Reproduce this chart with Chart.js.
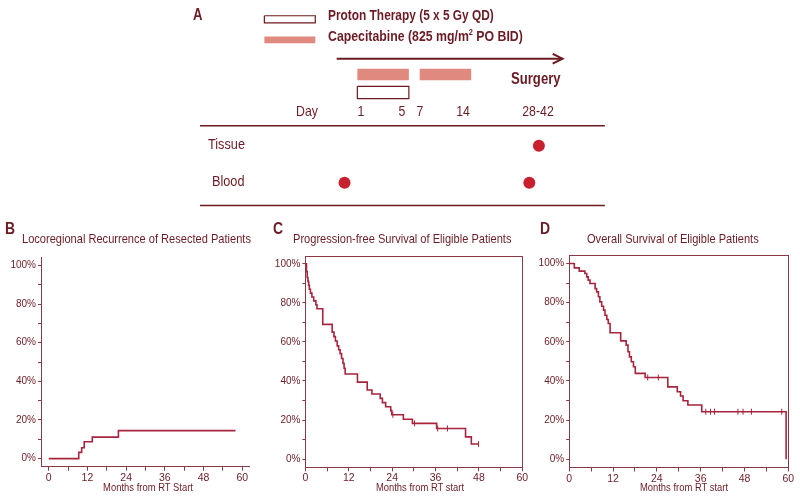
<!DOCTYPE html>
<html>
<head>
<meta charset="utf-8">
<script src="https://cdn.jsdelivr.net/npm/chart.js@4.4.1/dist/chart.umd.min.js"></script>
<style>
body { margin: 0; background: #fff; }
#wrap { position: relative; width: 800px; height: 500px; overflow: hidden; font-family: "Liberation Sans", Arial, sans-serif; color: #6b1b24; }
canvas { position: absolute; left: 0; top: 0; }
.t { position: absolute; white-space: nowrap; line-height: 1; }
sup { font-size: 9px; vertical-align: 6px; line-height: 0; }
</style>
</head>
<body>
<div id="wrap">
  <canvas id="chartA" width="800" height="500"></canvas>
  <canvas id="chartB" width="800" height="500"></canvas>
  <canvas id="chartC" width="800" height="500"></canvas>
  <canvas id="chartD" width="800" height="500"></canvas>
</div>
<script>
// ---- data ----
// B: locoregional recurrence (cumulative %)
const bMonths = [0, 9.3, 10.2, 11.0, 13.5, 21.6, 57.9];
const bPct    = [0, 3.2, 5.6, 8.7, 11.1, 14.5, 14.5];

// C: progression-free survival
const cMonths = [0, 0.3, 0.5, 0.7, 0.9, 1.1, 1.4, 1.8, 2.3, 2.9, 3.2, 4.8, 7.4, 7.9, 8.3, 8.8, 9.2, 9.6, 10.0, 10.4, 10.7, 11.0, 14.4, 17.1, 18.4, 20.7, 21.3, 22.2, 23.6, 23.9, 27.1, 29.6, 36.3, 44.3, 45.9, 48.0];
const cPct    = [100, 96, 93, 91, 89, 87, 85, 83, 81, 79, 77, 69, 65, 62.7, 60.5, 58, 56, 54, 51.5, 49, 46.5, 43.6, 39.4, 35.4, 33.3, 31.1, 28.9, 26.8, 24.8, 22.7, 20.4, 18.3, 15.7, 11.4, 7.7, 7.7];
const cCensorMonths = [24.2, 30.2, 36.6, 39.3, 47.9];
const cCensorPct    = [22.7, 18.3, 15.7, 15.7, 7.7];

// D: overall survival
const dMonths = [0, 1.4, 2.75, 4.3, 4.8, 5.2, 5.7, 7.1, 7.5, 8.0, 8.4, 8.9, 9.4, 9.8, 10.3, 10.7, 11.2, 14.1, 15.6, 16.1, 16.5, 17.0, 17.6, 18.1, 20.8, 27.0, 29.6, 30.5, 31.2, 32.5, 36.3, 59.4, 59.4];
const dPct    = [100, 97.8, 96.1, 94.9, 93.2, 91.5, 89.8, 87.2, 85.5, 83, 80.4, 78.2, 76.2, 73.6, 71.4, 69.4, 64.6, 60.5, 58.3, 54.9, 52.3, 49.8, 47.3, 43.9, 41.8, 37.0, 34.5, 32.3, 29.9, 27.7, 24.3, 24.3, 0];
const dCensorMonths = [21.5, 24.4, 37.4, 38.7, 39.8, 46.2, 47.6, 49.9, 58.2];
const dCensorPct    = [41.8, 41.8, 24.3, 24.3, 24.3, 24.3, 24.3, 24.3, 24.3];

// A: schematic (drawn in page units)
const openBoxes = [[262.3, 10, 314, 17.3], [356.7, 82.3, 409, 95]];
const fillBars  = [[262.3, 314, 34.7, 6.7], [356.7, 409, 70.2, 11.7], [420, 472.3, 70.2, 11.7]];
const ruleLines = [[197, 608, 122.7], [197, 608, 204.3]];
const arrowLine = [335.7, 565, 54];
const sampleX = [541, 343.7, 531.3];
const sampleY = [143.3, 181, 181];

const dayLabels = ['Day', '1', '5', '7', '14', '28-42'];
const dayPos    = [306.7, 360.7, 402.3, 420, 462.7, 538.3];

const FONT = '"Liberation Sans", Arial, sans-serif';
const TEXT = '#6b1b24';
const AXIS = '#8a3a44';
const CURVE = '#a8233c';
const MAROON = '#6d1a1f';
const SALMON = '#e0897e';
const DOT = '#c8202e';
const NARROW = 0.82;

const wrap = document.getElementById('wrap');
function label(html, x, y, size, opts) {
  opts = opts || {};
  const d = document.createElement('div');
  d.className = 't';
  d.innerHTML = html;
  d.style.left = x + 'px';
  d.style.top = y + 'px';
  d.style.fontSize = size + 'px';
  if (opts.bold) d.style.fontWeight = 'bold';
  if (opts.center) {
    d.style.transformOrigin = 'center center';
    d.style.transform = 'translate(-50%,-50%) scaleX(' + NARROW + ')';
  } else {
    d.style.transformOrigin = 'left center';
    d.style.transform = 'translateY(-50%) scaleX(' + NARROW + ')';
  }
  wrap.appendChild(d);
}

// ---- panel A ----
const aSets = [];
openBoxes.forEach(b => {
  aSets.push({ data: [{x: b[0], y: b[1]}, {x: b[2], y: b[1]}, {x: b[2], y: b[3]}, {x: b[0], y: b[3]}, {x: b[0], y: b[1]}],
    borderColor: MAROON, borderWidth: 1.2 });
});
fillBars.forEach(b => {
  aSets.push({ data: [{x: b[0], y: b[2]}, {x: b[1], y: b[2]}], borderColor: SALMON, borderWidth: b[3] });
});
ruleLines.forEach(l => {
  aSets.push({ data: [{x: l[0], y: l[2]}, {x: l[1], y: l[2]}], borderColor: MAROON, borderWidth: 1.5 });
});
aSets.push({ data: [{x: arrowLine[0], y: arrowLine[2]}, {x: arrowLine[1], y: arrowLine[2]}], borderColor: MAROON, borderWidth: 2 });
aSets.push({ data: [{x: arrowLine[1] - 10, y: arrowLine[2] - 5}, {x: arrowLine[1], y: arrowLine[2]}, {x: arrowLine[1] - 10, y: arrowLine[2] + 5}],
  borderColor: MAROON, borderWidth: 2 });
aSets.push({ data: sampleX.map((x, i) => ({x: x, y: sampleY[i]})), showLine: false,
  pointRadius: 6, pointBackgroundColor: DOT, pointBorderWidth: 0 });
aSets.forEach(s => {
  s.fill = false; s.tension = 0; s.clip = false; s.borderCapStyle = 'butt';
  if (s.pointRadius === undefined) s.pointRadius = 0;
});

new Chart(document.getElementById('chartA'), {
  type: 'line',
  data: { datasets: aSets },
  options: {
    responsive: false, animation: false, devicePixelRatio: 1,
    layout: { padding: 0 },
    plugins: { legend: { display: false }, tooltip: { enabled: false } },
    events: [],
    scales: {
      x: { type: 'linear', min: 0, max: 800, display: false },
      y: { type: 'linear', min: 0, max: 500, reverse: true, display: false }
    }
  }
});

// ---- KM panels ----
const Y_AXIS_W = 40;
const X_AXIS_H = 20;

function kmChart(id, area, xMin, boxed, datasets) {
  const scales = {
    x: {
      type: 'linear', min: xMin, max: xMin < 0 ? 62.3 : 60,
      afterFit: s => { s.height = X_AXIS_H; },
      ticks: { stepSize: 6, includeBounds: false, autoSkip: false, maxRotation: 0, padding: 1,
        color: TEXT, font: { family: FONT, size: 10.5 },
        callback: v => (Math.round(v) % 12 === 0 ? Math.round(v) : '') },
      grid: { drawOnChartArea: false, tickLength: 4, color: AXIS },
      border: { color: AXIS, width: 1 }
    },
    y: {
      type: 'linear', min: -4.2, max: 104,
      afterFit: s => { s.width = Y_AXIS_W; },
      ticks: { stepSize: 10, includeBounds: false, padding: 2,
        color: TEXT, font: { family: FONT, size: 10 },
        callback: v => (Math.round(v) % 20 === 0 ? Math.round(v) + '%' : '') },
      grid: { drawOnChartArea: false, tickLength: 3, color: AXIS },
      border: { color: AXIS, width: 1 }
    }
  };
  if (boxed) {
    scales.x2 = { type: 'linear', position: 'top', min: 0, max: 1, afterFit: s => { s.height = 0; },
      ticks: { display: false }, grid: { display: false, drawTicks: false }, border: { color: AXIS, width: 1 } };
    scales.y2 = { type: 'linear', position: 'right', min: 0, max: 1, afterFit: s => { s.width = 0; },
      ticks: { display: false }, grid: { display: false, drawTicks: false }, border: { color: AXIS, width: 1 } };
  }
  new Chart(document.getElementById(id), {
    type: 'line',
    data: { datasets: datasets },
    options: {
      responsive: false, animation: false, devicePixelRatio: 1,
      layout: { padding: { left: area[0] - Y_AXIS_W, top: area[1], right: 800 - area[2], bottom: 500 - area[3] - X_AXIS_H } },
      plugins: { legend: { display: false }, tooltip: { enabled: false } },
      events: [],
      scales: scales
    }
  });
}

function curve(months, pct) {
  return { data: months.map((m, i) => ({x: m, y: pct[i]})), stepped: 'before',
    borderColor: CURVE, borderWidth: 1.6, pointRadius: 0, fill: false };
}
function censor(months, pct) {
  return { data: months.map((m, i) => ({x: m, y: pct[i]})), showLine: false,
    pointStyle: 'line', rotation: 90, pointRadius: 3, borderColor: CURVE, pointBorderColor: CURVE,
    pointBorderWidth: 1 };
}

kmChart('chartB', [41, 257.7, 249.7, 466.7], -2.4, false, [curve(bMonths, bPct)]);
kmChart('chartC', [305.4, 256, 522.3, 467.3], 0, true, [curve(cMonths, cPct), censor(cCensorMonths, cCensorPct)]);
kmChart('chartD', [569.2, 255.7, 788.3, 467.5], 0, true, [curve(dMonths, dPct), censor(dCensorMonths, dCensorPct)]);

// ---- text ----
label('A', 193, 15, 16, { bold: true });
label('Proton Therapy (5 x 5 Gy QD)', 328, 14.5, 14.5, { bold: true });
label('Capecitabine (825 mg/m<sup>2</sup> PO BID)', 328, 35, 15, { bold: true });
label('Surgery', 510.7, 79, 16, { bold: true });
dayLabels.forEach((d, i) => label(d, dayPos[i], 110, 15, { center: true }));
label('Tissue', 208, 144, 15.5);
label('Blood', 211.7, 181, 15.5);

label('B', 5, 228, 17, { bold: true });
label('C', 273, 228, 17, { bold: true });
label('D', 540, 228, 17, { bold: true });
label('Locoregional Recurrence of Resected Patients', 21.7, 238.5, 13.5);
label('Progression-free Survival of Eligible Patients', 292.7, 238.5, 13.5);
label('Overall Survival of Eligible Patients', 587.3, 238.5, 13.5);
label('Months from RT Start', 147.5, 488, 11.5, { center: true });
label('Months from RT start', 420, 488, 11.5, { center: true });
label('Months from RT start', 684, 488, 11.5, { center: true });
</script>
</body>
</html>
